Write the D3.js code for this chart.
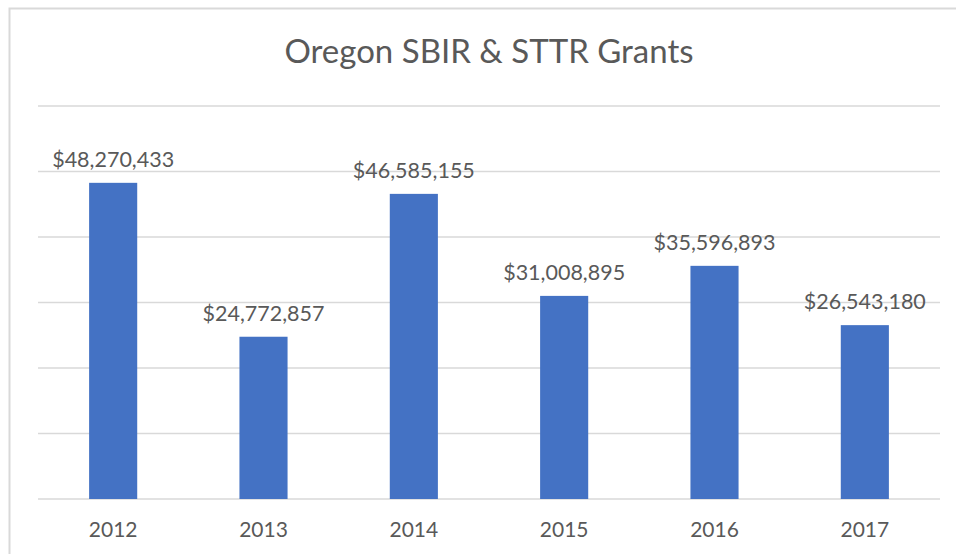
<!DOCTYPE html>
<html><head><meta charset="utf-8">
<script src="https://cdn.jsdelivr.net/npm/d3@7"></script>
<style>body{margin:0;background:#fff;} svg{display:block;}</style>
</head><body>
<svg id="c" width="956" height="554"></svg>
<script>
const years = ["2012","2013","2014","2015","2016","2017"];
const values = [48270433, 24772857, 46585155, 31008895, 35596893, 26543180];
const yTicks = [0,10000000,20000000,30000000,40000000,50000000,60000000];
const title = "Oregon SBIR & STTR Grants";

const svg = d3.select("#c");
const font = "Lato, 'Open Sans', sans-serif";
const textColor = "#595959";

// chart border
svg.append("rect").attr("x",9.5).attr("y",8.5).attr("width",960).attr("height",560)
  .attr("fill","none").attr("stroke","#d9d9d9").attr("stroke-width",2);

const x = d3.scaleBand().domain(years).range([38,940]).paddingInner(0.68).paddingOuter(0.34);
const y = d3.scaleLinear().domain([0,60000000]).range([499,106]);

svg.append("g").selectAll("line").data(yTicks).join("line")
  .attr("x1",38).attr("x2",940).attr("y1",d=>y(d)).attr("y2",d=>y(d))
  .attr("stroke","#d9d9d9").attr("stroke-width",1.5);

svg.append("g").selectAll("rect").data(values).join("rect")
  .attr("x",(d,i)=>x(years[i])).attr("width",x.bandwidth())
  .attr("y",d=>y(d)).attr("height",d=>y(0)-y(d)).attr("fill","#4472c4");

const fmt = d3.format("$,");
svg.append("g").selectAll("text").data(values).join("text")
  .attr("x",(d,i)=>x(years[i])+x.bandwidth()/2).attr("y",d=>y(d)-16)
  .attr("text-anchor","middle").attr("font-family",font).attr("font-size",21.5)
  .attr("fill",textColor).text(d=>fmt(d));

const xAxis = svg.append("g").attr("transform","translate(0,499)")
  .call(d3.axisBottom(x).tickSize(0).tickPadding(23));
xAxis.select(".domain").remove();
xAxis.selectAll("text").attr("font-family",font).attr("font-size",21).attr("fill",textColor);

svg.append("text").attr("x",489).attr("y",63).attr("text-anchor","middle")
  .attr("font-family",font).attr("font-size",33).attr("fill",textColor).text(title);
</script>
</body></html>
